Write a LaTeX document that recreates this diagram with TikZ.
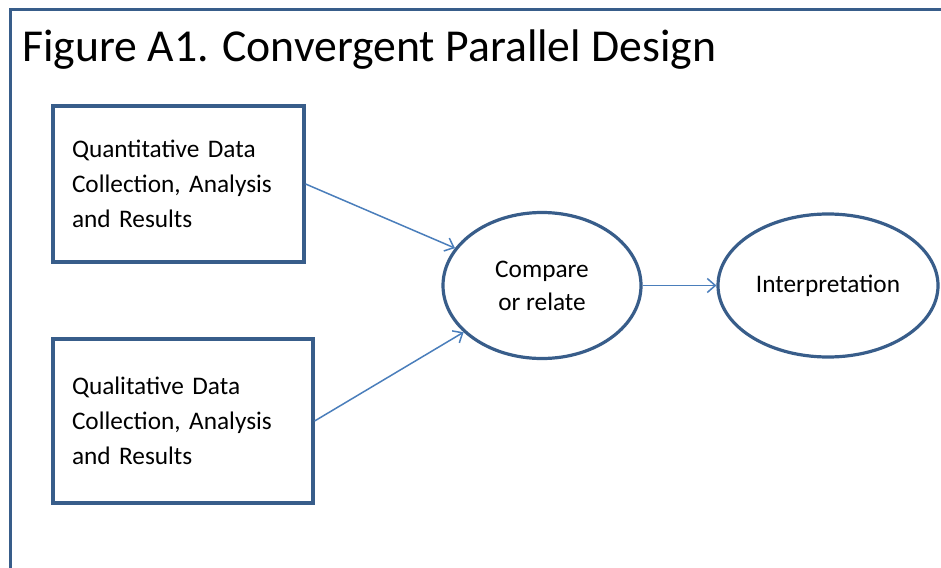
\documentclass[tikz,border=0pt]{standalone}
\usepackage{fontspec}
\setmainfont{Carlito}
\usetikzlibrary{arrows.meta,shapes.geometric}
\definecolor{frameblue}{RGB}{56,93,138}
\definecolor{arrowblue}{RGB}{74,126,187}
\begin{document}
\begin{tikzpicture}[x=1pt,y=-1pt,
  databox/.style={draw=frameblue,line width=3.2pt,rectangle,align=left,
    inner xsep=19pt,inner ysep=0pt,font=\fontsize{25.3}{35}\selectfont},
  oval/.style={draw=frameblue,line width=3.2pt,ellipse,inner sep=0pt,align=center,
    font=\fontsize{25.3}{33}\selectfont},
  conn/.style={draw=arrowblue,line width=1.5pt,-{Straight Barb[length=8pt,width=14pt,line width=1.5pt]}}]
\useasboundingbox (0,0) rectangle (941,567);
\draw[frameblue,line width=3pt] (10,570) -- (10,10) -- (945,10);
\node[anchor=base west,inner sep=0pt,font=\fontsize{45.7}{50}\selectfont] (title) at (22,62) {Figure A1. Convergent Parallel Design};
\node[databox,text width=213pt,minimum height=156pt] (quan) at (178.5,184) {Quantitative Data\\Collection, Analysis\\and Results};
\node[databox,text width=222pt,minimum height=164pt] (qual) at (183,421) {Qualitative Data\\Collection, Analysis\\and Results};
\node[oval,minimum width=198pt,minimum height=146pt] (cmp) at (542,285.5) {Compare\\or relate};
\node[oval,minimum width=220pt,minimum height=143pt] (int) at (828,285.5) {Interpretation};
\draw[conn] (quan.east) -- (cmp);
\draw[conn] (qual.east) -- (cmp);
\draw[conn] (cmp.east) -- (int.west);
\end{tikzpicture}
\end{document}
